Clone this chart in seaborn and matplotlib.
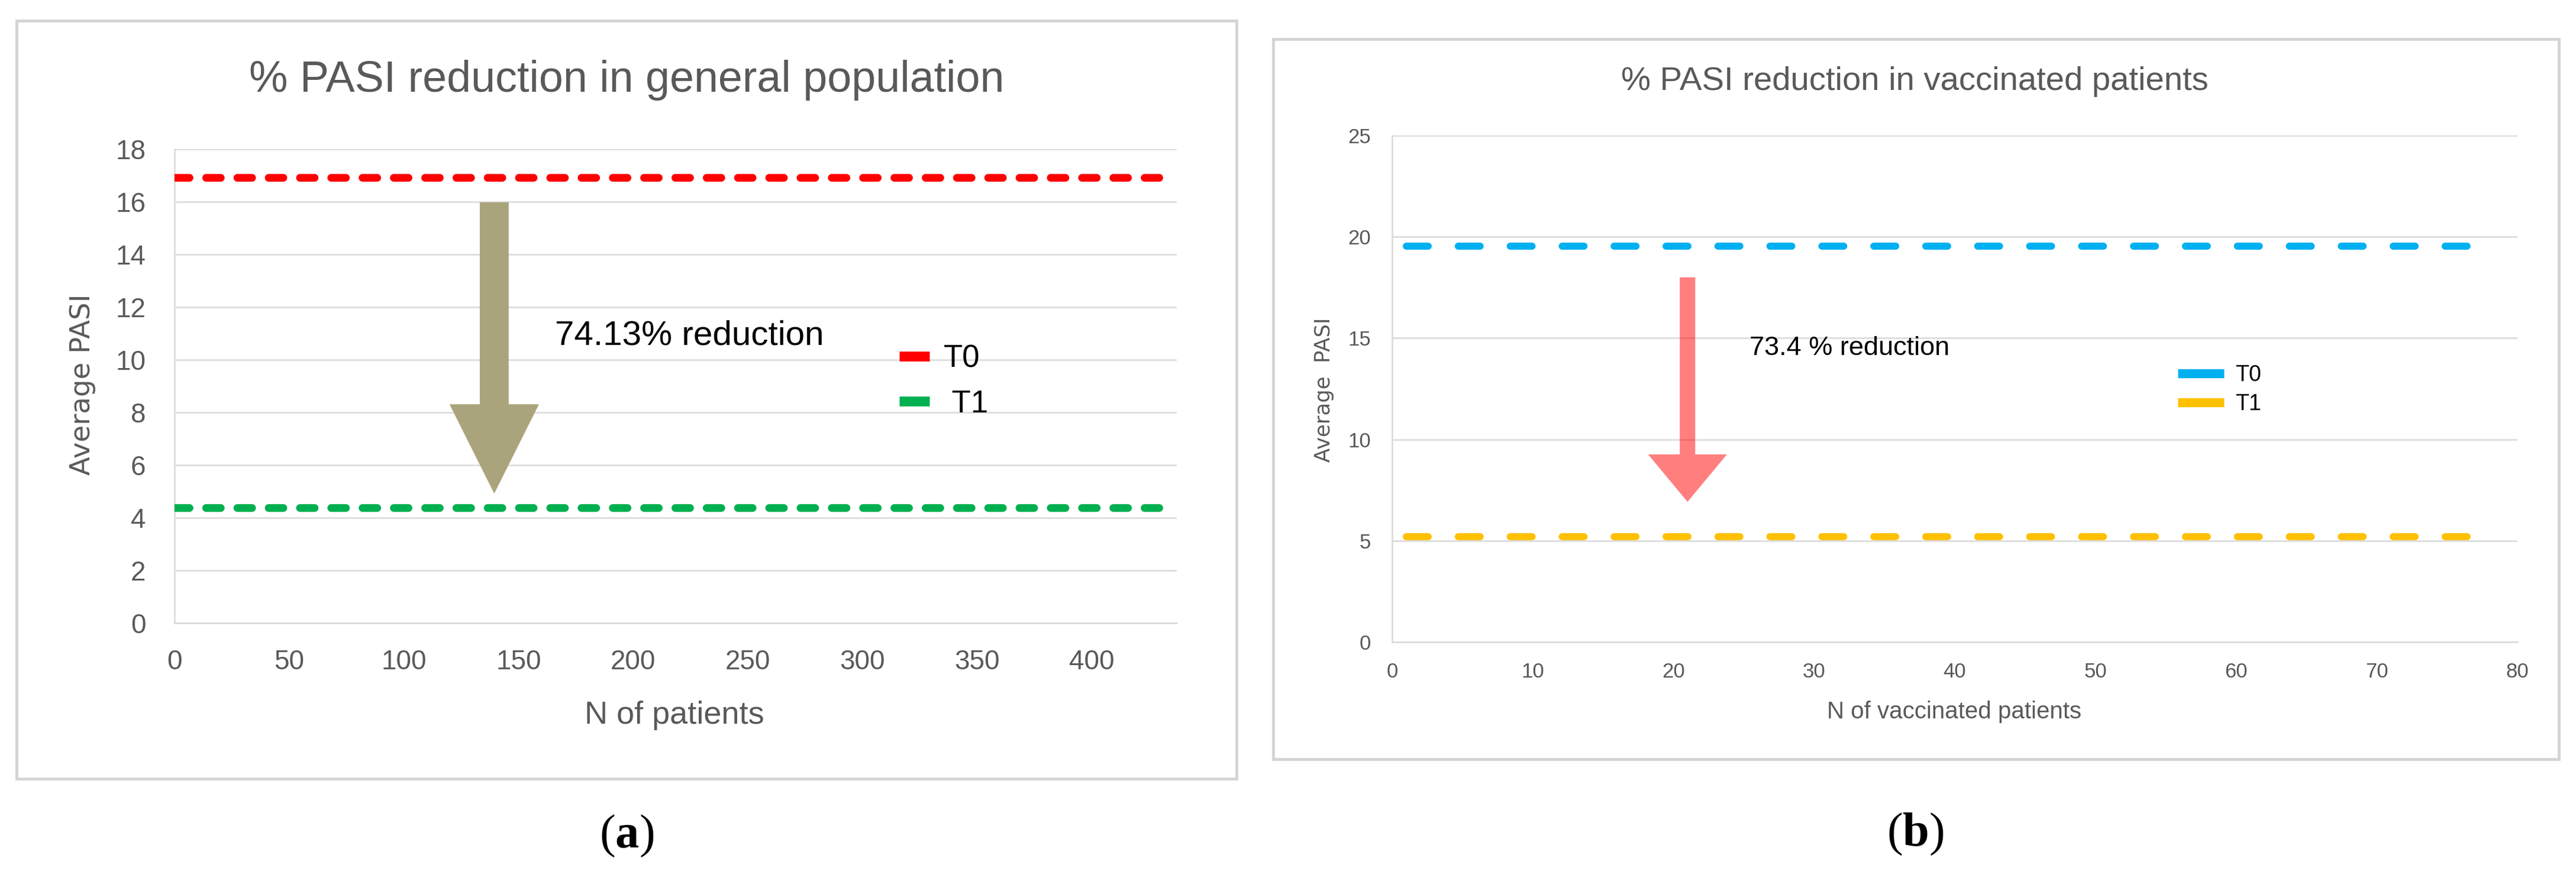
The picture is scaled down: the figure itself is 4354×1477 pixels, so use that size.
import numpy as np
import pandas as pd
import matplotlib
matplotlib.use("Agg")
import matplotlib.pyplot as plt
import seaborn as sns
from matplotlib.lines import Line2D
from matplotlib.patches import Rectangle

# ---------------- data ----------------
series_labels = ["T0", "T1"]

# Panel (a): general population
general_n = [0, 436]
general_t0 = [16.93, 16.93]
general_t1 = [4.38, 4.38]
general_xticks = [0, 50, 100, 150, 200, 250, 300, 350, 400]
general_yticks = [0, 2, 4, 6, 8, 10, 12, 14, 16, 18]
general_title = "% PASI reduction in general population"
general_xlabel = "N of patients"
general_ylabel = "Average PASI"
general_note = "74.13% reduction"

# Panel (b): vaccinated patients
vacc_n = [1, 77]
vacc_t0 = [19.54, 19.54]
vacc_t1 = [5.2, 5.2]
vacc_xticks = [0, 10, 20, 30, 40, 50, 60, 70, 80]
vacc_yticks = [0, 5, 10, 15, 20, 25]
vacc_title = "% PASI reduction in vaccinated patients"
vacc_xlabel = "N of vaccinated patients"
vacc_ylabel = "Average  PASI"
vacc_note = "73.4 % reduction"

# ---------------- style ----------------
sns.set_style("white")
plt.rcParams["font.family"] = ["Liberation Sans", "DejaVu Sans"]
plt.rcParams["mathtext.fontset"] = "custom"
plt.rcParams["mathtext.rm"] = "Liberation Serif"
plt.rcParams["mathtext.bf"] = "Liberation Serif:bold"

GRID = "#D9D9D9"
TXT = "#595959"

W, H = 4354, 1477
DPI = 100
fig = plt.figure(figsize=(W / DPI, H / DPI), dpi=DPI)
fig.patch.set_facecolor("white")

def px_box(x0, y0, x1, y1):
    return [x0 / W, 1 - y1 / H, (x1 - x0) / W, (y1 - y0) / H]

# outer chart-area boxes
for (x0, y0, x1, y1) in [(28, 35, 2090, 1316), (2152, 66, 4325, 1283)]:
    fig.patches.append(Rectangle((x0 / W, 1 - y1 / H), (x1 - x0) / W, (y1 - y0) / H,
                                 transform=fig.transFigure, fill=False,
                                 edgecolor="#D4D4D4", lw=3.5, zorder=0))

def make_panel(rect, n, t0, t1, colors, xlim, ylim, xticks, yticks,
               lw, dash, tick_fs, tick_pad_y, tick_pad_x):
    ax = fig.add_axes(rect)
    df = pd.DataFrame({
        "n": list(n) + list(n),
        "pasi": list(t0) + list(t1),
        "series": [series_labels[0]] * len(n) + [series_labels[1]] * len(n),
    })
    sns.lineplot(data=df, x="n", y="pasi", hue="series", style="series",
                 palette={series_labels[0]: colors[0], series_labels[1]: colors[1]},
                 dashes={series_labels[0]: dash, series_labels[1]: dash},
                 lw=lw, dash_capstyle="round", legend=False, ax=ax, zorder=3)
    ax.set_xlim(*xlim)
    ax.set_ylim(*ylim)
    ax.set_xticks(xticks)
    ax.set_yticks(yticks)
    ax.set_xlabel("")
    ax.set_ylabel("")
    ax.yaxis.grid(True, color=GRID, lw=1.8, zorder=0)
    ax.xaxis.grid(False)
    ax.set_axisbelow(True)
    for s in ["top", "right"]:
        ax.spines[s].set_visible(False)
    for s in ["left", "bottom"]:
        ax.spines[s].set_color(GRID)
        ax.spines[s].set_linewidth(1.8)
    ax.tick_params(axis="both", length=0, labelsize=tick_fs, labelcolor=TXT)
    ax.tick_params(axis="y", pad=tick_pad_y)
    ax.tick_params(axis="x", pad=tick_pad_x)
    ax.set_facecolor("white")
    return ax

# ---------------- panel (a) ----------------
axA = make_panel(px_box(295, 252, 1989, 1053), general_n, general_t0, general_t1,
                 ("#FF0000", "#00B050"), (0, 437), (0, 18),
                 general_xticks, general_yticks,
                 lw=9.4, dash=(1.9, 2.15), tick_fs=33, tick_pad_y=35, tick_pad_x=31.5)
axA.arrow(139.4, 15.98, 0, -(15.98 - 4.92), width=12.6, head_width=39, head_length=3.39,
          length_includes_head=True, color="#A9A47B", lw=0, zorder=4)
axA.text(166, 10.9, general_note, fontsize=42, color="black", va="center", ha="left")
legA = axA.legend(handles=[Line2D([], [], color="#FF0000", lw=12, solid_capstyle="butt"),
                           Line2D([], [], color="#00B050", lw=12, solid_capstyle="butt")],
                  labels=[series_labels[0], " " + series_labels[1]],
                  loc="center left", bbox_to_anchor=(0.723, 0.51), frameon=False,
                  fontsize=38, handlelength=0.98, handletextpad=0.45,
                  labelspacing=0.5, borderpad=0, borderaxespad=0)
for t in legA.get_texts():
    t.set_color("black")

fig.text(1059 / W, 1 - 135 / H, general_title, fontsize=53, color=TXT, ha="center", va="center")
fig.text(1140 / W, 1 - 1209 / H, general_xlabel, fontsize=39, color=TXT, ha="center", va="center")
fig.text(140 / W, 1 - 650 / H, general_ylabel, fontsize=33.5, color=TXT, ha="center", va="center",
         rotation=90, family="DejaVu Sans")
fig.text(1059 / W, 1 - 1413 / H, r"$\mathrm{(}\mathbf{a}\mathrm{)}$", fontsize=58,
         color="black", ha="center", va="center")

# ---------------- panel (b) ----------------
axB = make_panel(px_box(2353, 229, 4255, 1085), vacc_n, vacc_t0, vacc_t1,
                 ("#00B0F0", "#FFC000"), (0, 80), (0, 25),
                 vacc_xticks, vacc_yticks,
                 lw=8.6, dash=(3.1, 4.25), tick_fs=25, tick_pad_y=26, tick_pad_x=24.5)
axB.arrow(21, 18.0, 0, -(18.0 - 6.92), width=1.1, head_width=5.6, head_length=2.34,
          length_includes_head=True, color="#FF0000", alpha=0.5, lw=0, zorder=4)
axB.text(25.4, 14.5, vacc_note, fontsize=32.5, color="black", va="center", ha="left")
legB = axB.legend(handles=[Line2D([], [], color="#00B0F0", lw=11, solid_capstyle="butt"),
                           Line2D([], [], color="#FFC000", lw=11, solid_capstyle="butt")],
                  labels=series_labels,
                  loc="center left", bbox_to_anchor=(0.698, 0.498), frameon=False,
                  fontsize=27, handlelength=2.1, handletextpad=0.5,
                  labelspacing=0.36, borderpad=0, borderaxespad=0)
for t in legB.get_texts():
    t.set_color("black")

fig.text(3236 / W, 1 - 138 / H, vacc_title, fontsize=40.5, color=TXT, ha="center", va="center")
fig.text(3303 / W, 1 - 1203 / H, vacc_xlabel, fontsize=29, color=TXT, ha="center", va="center")
fig.text(2238 / W, 1 - 659 / H, vacc_ylabel, fontsize=25.5, color=TXT, ha="center", va="center",
         rotation=90, family="DejaVu Sans")
fig.text(3237 / W, 1 - 1410 / H, r"$\mathrm{(}\mathbf{b}\mathrm{)}$", fontsize=58,
         color="black", ha="center", va="center")

fig.savefig("out.png", dpi=DPI, facecolor="white")
